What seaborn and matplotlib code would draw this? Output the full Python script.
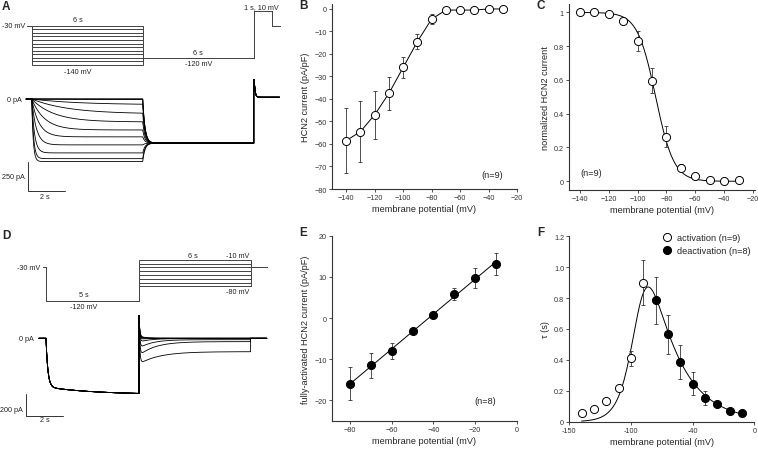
import matplotlib
matplotlib.use("Agg")

import matplotlib.pyplot as plt
import seaborn as sns
import numpy as np
import pandas as pd


# ---- panels B / C : steady-state activation ----
act_v = [-140, -130, -120, -110, -100, -90, -80, -70, -60, -50, -40, -30]
act_density = [-58.5, -54.5, -47, -37.5, -26, -14.5, -4.5, -0.5, -0.5, -0.5, 0, 0]
act_density_err = [14.3, 13.5, 10.7, 7.3, 4.5, 3.5, 2.2, 0.4, 0.4, 0.4, 0.3, 0.3]
act_norm = [1.0, 1.0, 0.99, 0.95, 0.83, 0.595, 0.265, 0.08, 0.03, 0.01, 0.0, 0.01]
act_norm_err = [0.005, 0.005, 0.01, 0.02, 0.06, 0.075, 0.065, 0.02, 0.01, 0.005, 0.005, 0.005]
boltz_vhalf = -87.5
boltz_k = 6.3

# ---- panel E : fully-activated current ----
full_v = [-80, -70, -60, -50, -40, -30, -20, -10]
full_current = [-16, -11.5, -8, -3.2, 0.7, 5.8, 9.7, 13.2]
full_err = [4, 3, 2, 0.6, 0.4, 1.4, 2.5, 2.7]

# ---- panel F : time constants ----
tau_act_v = [-140, -130, -120, -110, -100, -90]
tau_act = [0.055, 0.085, 0.135, 0.215, 0.41, 0.90]
tau_act_err = [0.01, 0.01, 0.01, 0.015, 0.05, 0.145]
tau_deact_v = [-80, -70, -60, -50, -40, -30, -20, -10]
tau_deact = [0.785, 0.565, 0.385, 0.245, 0.155, 0.115, 0.07, 0.055]
tau_deact_err = [0.15, 0.125, 0.11, 0.075, 0.045, 0.02, 0.01, 0.005]
tau_amp = 1.53
tau_vh = -92.6
tau_k_left = 8.0
tau_k_right = 24.0

# ---- panel A : activation protocol / currents ----
a_step_v = [-30, -40, -50, -60, -70, -80, -90, -100, -110, -120, -130, -140]
a_ss_current = [0, 0, -5, -50, -130, -200, -270, -330, -400, -470, -520, -545]
a_act_tau = [1.0, 1.0, 3.0, 2.5, 2.0, 1.2, 0.7, 0.4, 0.25, 0.15, 0.1, 0.08]
a_hold_v = -30
a_test_v = -120
a_tail_v = 10
a_test_current = -385
a_tail_peak = 280
a_tail_current = 15

# ---- panel D : deactivation protocol / currents ----
d_step_v = [-10, -20, -30, -40, -50, -60, -70, -80]
d_start_current = [20, 10, 0, -10, -37, -93, -161, -238]
d_end_current = [0, 0, 0, 0, -3, -13, -31, -124]
d_pre_fast = -450
d_pre_slow = -70
d_cap_peak = 210

W, H = 758, 456

sns.set_style("ticks")
plt.rcParams["font.family"] = ["Liberation Sans", "DejaVu Sans"]
plt.rcParams["axes.edgecolor"] = "#333333"
plt.rcParams["axes.linewidth"] = 0.8
plt.rcParams["xtick.color"] = "#333333"
plt.rcParams["ytick.color"] = "#333333"
plt.rcParams["xtick.major.size"] = 2.2
plt.rcParams["ytick.major.size"] = 2.2
plt.rcParams["xtick.major.width"] = 0.6
plt.rcParams["ytick.major.width"] = 0.6
plt.rcParams["xtick.major.pad"] = 1.5
plt.rcParams["ytick.major.pad"] = 1.5

fig = plt.figure(figsize=(W / 100, H / 100), dpi=100)


def px_axes(x0, y0, x1, y1):
    return fig.add_axes([x0 / W, 1 - y1 / H, (x1 - x0) / W, (y1 - y0) / H])


def style_xy(ax, xlabel, ylabel):
    sns.despine(ax=ax)
    ax.set_xlabel(xlabel, fontsize=6.6, labelpad=2)
    ax.set_ylabel(ylabel, fontsize=6.6, labelpad=3)
    ax.tick_params(labelsize=5.2)


def seg_df(parts, unit):
    t = np.concatenate([p[0] for p in parts])
    y = np.concatenate([p[1] for p in parts])
    return pd.DataFrame({"t": t, "y": y, "unit": unit})


txt = dict(fontsize=5.2, color="#222222")

# ================= panel A =================
ax = px_axes(0, 0, 283, 85)
rows = []
for i, v in enumerate(a_step_v):
    t = [-0.25, 0, 0, 6, 6, 12, 12, 13, 13, 13.4]
    y = [a_hold_v, a_hold_v, v, v, a_test_v, a_test_v, a_tail_v, a_tail_v, a_hold_v, a_hold_v]
    rows.append(pd.DataFrame({"t": t, "y": y, "unit": i}))
sns.lineplot(data=pd.concat(rows), x="t", y="y", units="unit", estimator=None,
             sort=False, color="#444444", lw=0.7, ax=ax)
ax.set_xlim(-1.714, 13.584)
ax.set_ylim(-193.3, 44.8)
ax.axis("off")
ax.text(-0.36, a_hold_v, "-30 mV", ha="right", va="center", **txt)
ax.text(2.5, -14, "6 s", ha="center", va="center", **txt)
ax.text(2.5, -157, "-140 mV", ha="center", va="center", **txt)
ax.text(9, -103.7, "6 s", ha="center", va="center", **txt)
ax.text(9, -134.5, "-120 mV", ha="center", va="center", **txt)
ax.text(12.4, 22.4, "1 s, 10 mV", ha="center", va="center", **txt)

ax = px_axes(0, 80, 283, 210)
rows = []
for i, (lvl, tau) in enumerate(zip(a_ss_current, a_act_tau)):
    t1 = np.linspace(0, 6, 300)
    i1 = lvl * (1 - np.exp(-t1 / tau))
    t2 = np.linspace(6, 12, 300)
    i2 = a_test_current + (i1[-1] - a_test_current) * np.exp(-(t2 - 6) / 0.12)
    t3 = np.linspace(12, 13.4, 200)
    i3 = a_tail_current + (a_tail_peak - a_tail_current) * np.exp(-(t3 - 12) / 0.05)
    rows.append(seg_df([(np.array([-0.3, 0]), np.array([0, 0])), (t1, i1), (t2, i2), (t3, i3)], i))
sns.lineplot(data=pd.concat(rows), x="t", y="y", units="unit", estimator=None,
             sort=False, color="black", lw=0.6, ax=ax)
ax.plot([-0.18, -0.18, 1.82], [-549, -800, -800], color="#333333", lw=0.7)
ax.set_xlim(-1.714, 13.584)
ax.set_ylim(-959, 174.4)
ax.axis("off")
ax.text(-0.52, 0, "0 pA", ha="right", va="center", **txt)
ax.text(-0.36, -680, "250 pA", ha="right", va="center", **txt)
ax.text(0.7, -852, "2 s", ha="center", va="center", **txt)

# ================= panel D =================
ax = px_axes(0, 240, 270, 315)
rows = []
for i, v in enumerate(d_step_v):
    t = [-0.16, 0, 0, 5, 5, 11, 11, 11.87]
    y = [a_hold_v, a_hold_v, a_test_v, a_test_v, v, v, a_hold_v, a_hold_v]
    rows.append(pd.DataFrame({"t": t, "y": y, "unit": i}))
sns.lineplot(data=pd.concat(rows), x="t", y="y", units="unit", estimator=None,
             sort=False, color="#444444", lw=0.7, ax=ax)
ax.set_xlim(-2.473, 12.043)
ax.set_ylim(-153.7, 45.8)
ax.axis("off")
ax.text(-0.32, a_hold_v, "-30 mV", ha="right", va="center", **txt)
ax.text(7.9, 3.2, "6 s", ha="center", va="center", **txt)
ax.text(10.3, 3.2, "-10 mV", ha="center", va="center", **txt)
ax.text(10.3, -94.4, "-80 mV", ha="center", va="center", **txt)
ax.text(2.04, -103, "5 s", ha="center", va="center", **txt)
ax.text(2.04, -133, "-120 mV", ha="center", va="center", **txt)

ax = px_axes(0, 310, 270, 430)
rows = []
for i, (i0, iss, tau) in enumerate(zip(d_start_current, d_end_current, tau_deact[::-1])):
    t1 = np.linspace(0, 5, 300)
    c1 = d_pre_fast * (1 - np.exp(-t1 / 0.1)) + d_pre_slow * (1 - np.exp(-t1 / 2.5))
    t2 = np.linspace(5, 11, 400)
    c2 = iss + (i0 - iss) * np.exp(-(t2 - 5) / (tau + 0.3)) \
        + (d_cap_peak - i0) * np.exp(-(t2 - 5) / 0.04)
    t3 = np.array([11, 11.87])
    c3 = np.array([0, 0])
    rows.append(seg_df([(np.array([-0.38, 0]), np.array([0, 0])), (t1, c1), (t2, c2), (t3, c3)], i))
sns.lineplot(data=pd.concat(rows), x="t", y="y", units="unit", estimator=None,
             sort=False, color="black", lw=0.6, ax=ax)
ax.plot([-1.07, -1.07, 0.93], [-516, -716, -716], color="#333333", lw=0.7)
ax.set_xlim(-2.473, 12.043)
ax.set_ylim(-840, 271)
ax.axis("off")
ax.text(-0.64, 0, "0 pA", ha="right", va="center", **txt)
ax.text(-1.24, -655, "200 pA", ha="right", va="center", **txt)
ax.text(-0.07, -756, "2 s", ha="center", va="center", **txt)

mk = dict(s=34, linewidth=0.7, edgecolor="black", zorder=4)
eb = dict(fmt="none", ecolor="#333333", elinewidth=0.6, capsize=1.3, capthick=0.6, zorder=2)

# ================= panel B =================
ax = px_axes(332, 5, 517, 190)
sns.lineplot(x=act_v, y=act_density, color="black", lw=0.7, ax=ax, zorder=1)
ax.errorbar(act_v, act_density, yerr=act_density_err, **eb)
sns.scatterplot(x=act_v, y=act_density, color="white", ax=ax, **mk)
ax.set_xlim(-150, -20)
ax.set_ylim(-80, 2.2)
ax.set_xticks(range(-140, -19, 20))
ax.set_yticks(range(-80, 1, 10))
style_xy(ax, "membrane potential (mV)", "HCN2 current (pA/pF)")
ax.text(-30, -73.5, "(n=9)", fontsize=6.6, ha="right", va="center")

# ================= panel C =================
ax = px_axes(569, 5, 755, 190.7)
v_fit = np.linspace(-140, -30, 300)
ax.plot(v_fit, 1 / (1 + np.exp((v_fit - boltz_vhalf) / boltz_k)), color="black", lw=0.7, zorder=1)
ax.errorbar(act_v, act_norm, yerr=act_norm_err, **eb)
sns.scatterplot(x=act_v, y=act_norm, color="white", ax=ax, **mk)
ax.set_xlim(-147.6, -18.6)
ax.set_ylim(-0.05, 1.05)
ax.set_xticks(range(-140, -19, 20))
ax.set_yticks([0, 0.2, 0.4, 0.6, 0.8, 1])
ax.set_yticklabels(["0", "0.2", "0.4", "0.6", "0.8", "1"])
style_xy(ax, "membrane potential (mV)", "normalized HCN2 current")
ax.text(-140, 0.05, "(n=9)", fontsize=6.6, ha="left", va="center")

# ================= panel E =================
ax = px_axes(331.7, 236.7, 516.7, 422)
slope, icpt = np.polyfit(full_v, full_current, 1)
v_line = np.array([full_v[0], full_v[-1]])
ax.plot(v_line, slope * v_line + icpt, color="black", lw=0.7, zorder=1)
ax.errorbar(full_v, full_current, yerr=full_err, **eb)
sns.scatterplot(x=full_v, y=full_current, color="black", ax=ax, **mk)
ax.set_xlim(-88.8, 0)
ax.set_ylim(-25, 20)
ax.set_xticks(range(-80, 1, 20))
ax.set_yticks(range(-20, 21, 10))
style_xy(ax, "membrane potential (mV)", "fully-activated HCN2 current (pA/pF)")
ax.text(-10, -20, "(n=8)", fontsize=6.6, ha="right", va="center")

# ================= panel F =================
ax = px_axes(569.3, 237.3, 754.3, 422.7)
v_tau = np.linspace(-140, -10, 300)
tau_curve = tau_amp / (np.exp(-(v_tau - tau_vh) / tau_k_left) + np.exp((v_tau - tau_vh) / tau_k_right))
ax.plot(v_tau, tau_curve, color="black", lw=0.7, zorder=1)
ax.errorbar(tau_act_v, tau_act, yerr=tau_act_err, **eb)
ax.errorbar(tau_deact_v, tau_deact, yerr=tau_deact_err, **eb)
sns.scatterplot(x=tau_act_v, y=tau_act, color="white", ax=ax, label="activation (n=9)", **mk)
sns.scatterplot(x=tau_deact_v, y=tau_deact, color="black", ax=ax, label="deactivation (n=8)", **mk)
ax.set_xlim(-150, 0)
ax.set_ylim(0, 1.2)
ax.set_xticks([-150, -100, -50, 0])
ax.set_xticklabels(["-150", "-100", "-40", "0"])
ax.set_yticks([0, 0.2, 0.4, 0.6, 0.8, 1.0, 1.2])
ax.set_yticklabels(["0", "0.2", "0.4", "0.6", "0.8", "1.0", "1.2"])
style_xy(ax, "membrane potential (mV)", "τ (s)")
ax.legend(loc="upper right", bbox_to_anchor=(1.0, 1.04), frameon=False, fontsize=6.6,
          handletextpad=0.7, borderaxespad=0, labelspacing=0.45, markerscale=1.0,
          handlelength=0.8)

# panel letters
for lab, x, y in [("A", 6, 7), ("B", 303, 6), ("C", 541, 6),
                  ("D", 6, 236), ("E", 303, 233), ("F", 541, 233)]:
    fig.text(x / W, 1 - y / H, lab, fontsize=8.5, fontweight="bold", ha="center", va="center")

fig.savefig("out.png", dpi=100)
